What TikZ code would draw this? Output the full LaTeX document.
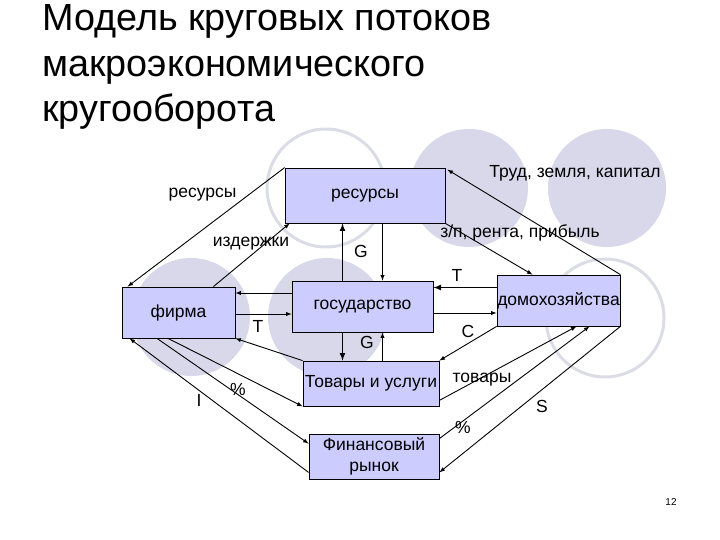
\documentclass[tikz,border=0pt]{standalone}
\usepackage{fontspec}
\setmainfont{Liberation Sans}
\definecolor{boxfill}{RGB}{204,204,255}
\definecolor{rond}{RGB}{216,216,234}
\definecolor{anneau}{RGB}{220,220,230}
\begin{document}
\begin{tikzpicture}[x=1pt,y=-1pt]
\tikzset{boite/.style={draw, fill=boxfill, line width=0.8pt, inner sep=0pt, align=center, font=\fontsize{17.5}{21}\selectfont}}
\tikzset{etiq/.style={anchor=base, inner sep=0pt, font=\fontsize{17.5}{21}\selectfont}}
\tikzset{titre/.style={anchor=base west, inner sep=0pt, font=\fontsize{37.8}{45}\selectfont}}
\tikzset{fl/.style={->, >=latex, line width=0.9pt}}
\tikzset{flg/.style={fl, line width=1.6pt}}
\useasboundingbox (0,0) rectangle (720,540);
\fill[rond] (469,188) circle (59pt);
\fill[rond] (607,188) circle (59pt);
\fill[rond] (191,317) circle (59pt);
\fill[rond] (327,317) circle (59pt);
\draw[anneau, line width=3pt] (326,188) circle (59pt);
\draw[anneau, line width=3pt] (605,318) circle (59pt);
\node[titre] (t1) at (42,31) {Модель круговых потоков};
\node[titre] (t2) at (42,76.5) {макроэкономического};
\node[titre] (t3) at (42,122) {кругооборота};
\node[boite, minimum width=160pt, minimum height=55pt] (Res) at (365,195.5) {ресурсы};
\node[boite, minimum width=113pt, minimum height=51pt] (Firm) at (178.5,312.5) {фирма};
\node[boite, minimum width=141pt, minimum height=51pt] (Gov) at (362.5,306.5) {государство};
\node[boite, minimum width=123pt, minimum height=51pt] (Dom) at (558.5,300.5) {домохозяйства};
\node[boite, minimum width=136pt, minimum height=45pt] (Tov) at (371,383.5) {Товары и услуги};
\node[boite, minimum width=130pt, minimum height=45pt] (Fin) at (374,456.5) {Финансовый\\рынок};
\draw[fl] (Res.north west) -- ([xshift=6pt]Firm.north west);
\draw[fl] ([xshift=-22pt]Firm.north east) -- ([xshift=5pt]Res.south west);
\draw[flg] ([xshift=-20pt]Gov.north) -- ([xshift=-20pt]Gov.north |- Res.south);
\draw[fl] ([xshift=20pt]Gov.north |- Res.south) -- ([xshift=20pt]Gov.north);
\draw[fl] (Res.south east) -- ([xshift=-26pt]Dom.north);
\draw[fl] (Dom.north east) -- ([xshift=2pt,yshift=-2pt]Res.north east);
\draw[flg] ([yshift=13pt]Dom.west) -- ([yshift=13pt]Dom.west -| Gov.east);
\draw[fl] ([yshift=-12.5pt]Dom.west -| Gov.east) -- ([yshift=-12.5pt]Dom.west);
\draw[fl] ([yshift=13.5pt]Gov.west) -- ([yshift=13.5pt]Gov.west -| Firm.east);
\draw[fl] ([yshift=-7.5pt]Gov.west -| Firm.east) -- ([yshift=-7.5pt]Gov.west);
\draw[flg] ([xshift=-20pt]Gov.south) -- ([xshift=-20pt]Gov.south |- Tov.north);
\draw[fl] ([xshift=20pt]Gov.south |- Tov.north) -- ([xshift=20pt]Gov.south);
\draw[fl] (Dom.south west) -- (Tov.north east);
\draw[fl] ([yshift=6pt]Tov.south east) -- ([xshift=18pt]Dom.south);
\draw[fl] ([yshift=-5pt]Fin.north east) -- ([xshift=31pt]Dom.south);
\draw[fl] (Dom.south east) -- ([yshift=7pt]Fin.south east);
\draw[fl] (Tov.north west) -- (Firm.south east);
\draw[fl] ([xshift=-10.5pt]Firm.south) -- (Tov.south west);
\draw[fl] ([xshift=-21.5pt]Firm.south) -- ([yshift=-10pt]Fin.north west);
\draw[fl] ([yshift=7pt]Fin.south west) -- ([xshift=8pt]Firm.south west);
\node[etiq] (lres) at (202.5,197) {ресурсы};
\node[etiq] (lizd) at (251,247) {издержки};
\node[etiq] (lG1) at (361,258) {G};
\node[etiq] (lG2) at (367,348) {G};
\node[etiq] (ltrud) at (575,178) {Труд, земля, капитал};
\node[etiq] (lzp) at (520,237) {з/п, рента, прибыль};
\node[etiq] (lT1) at (457,281) {T};
\node[etiq] (lT2) at (258,332) {T};
\node[etiq] (lC) at (468,337) {C};
\node[etiq] (ltov) at (482,382) {товары};
\node[etiq] (lS) at (542,412) {S};
\node[etiq] (lp1) at (463,433) {\%};
\node[etiq] (lp2) at (238,395) {\%};
\node[etiq] (lI) at (199,406) {I};
\node[anchor=base, inner sep=0pt, font=\fontsize{10}{12}\selectfont] (num) at (671,505) {12};
\end{tikzpicture}
\end{document}
